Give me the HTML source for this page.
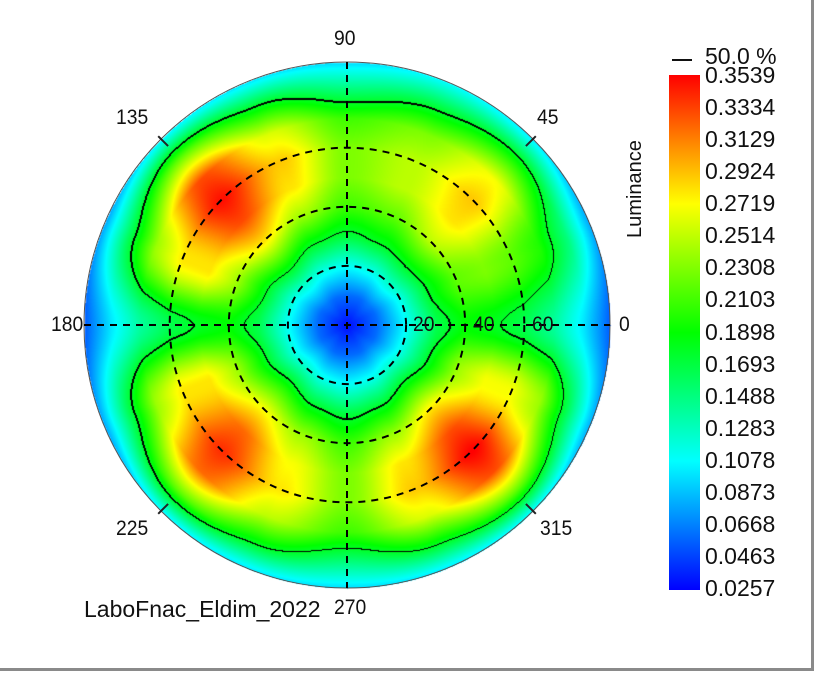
<!DOCTYPE html>
<html><head><meta charset="utf-8">
<style>
html,body{margin:0;padding:0;background:#fff;}
#wrap{position:relative;width:817px;height:674px;overflow:hidden;background:#fff;font-family:"Liberation Sans",sans-serif;}
.frame{position:absolute;left:0;top:0;width:811px;height:668px;border-right:3px solid #8a8a8a;border-bottom:3px solid #8a8a8a;}
.lbl{position:absolute;font-size:21px;color:#111;white-space:nowrap;transform:scaleX(0.92);transform-origin:left center;}
.cb{position:absolute;left:705px;font-size:23px;color:#111;}
</style></head>
<body>
<div id="wrap">
<div class="frame"></div>
<canvas id="cv" width="817" height="674" style="position:absolute;left:0;top:0"></canvas>
<svg id="ov" width="817" height="674" style="position:absolute;left:0;top:0"></svg>
<div class="lbl" style="left:334px;top:27px">90</div>
<div class="lbl" style="left:537px;top:106px">45</div>
<div class="lbl" style="left:116px;top:106px">135</div>
<div class="lbl" style="left:51px;top:313px">180</div>
<div class="lbl" style="left:619px;top:313px">0</div>
<div class="lbl" style="left:116px;top:517px">225</div>
<div class="lbl" style="left:540px;top:517px">315</div>
<div class="lbl" style="left:413px;top:313px">20</div>
<div class="lbl" style="left:473px;top:313px">40</div>
<div class="lbl" style="left:532px;top:313px">60</div>
<div class="lbl" style="left:334px;top:596px">270</div>
<div class="lbl" style="left:84px;top:596px;font-size:23px;transform:none">LaboFnac_Eldim_2022</div>
<div class="lbl" style="left:624px;top:238px;transform:rotate(-90deg);transform-origin:left top;font-size:20px">Luminance</div>
<div style="position:absolute;left:672px;top:59px;width:20px;height:2px;background:#111"></div>
<div class="cb" style="top:43px">50.0 %</div>
<div id="cbar" style="position:absolute;left:669px;top:75px;width:31px;height:515px"></div>
<div id="cblabels"></div>
</div>
<script>
// Data: luminance sampled along azimuths (deg) at polar radii (deg)
const azimuths = [0,22.5,45,67.5,90,112.5,135,157.5,180,202.5,225,247.5,270,292.5,315,337.5];
const radii = [0,10,20,30,40,50,60,70,80,90];
const lum = [
 [.03,.06,.11,.165,.19,.18,.165,.14,.10,.05],
 [.03,.06,.115,.18,.22,.23,.22,.2,.15,.07],
 [.03,.065,.125,.19,.25,.28,.29,.27,.19,.09],
 [.03,.06,.115,.18,.22,.25,.25,.23,.17,.10],
 [.03,.06,.11,.17,.21,.23,.23,.21,.15,.09],
 [.03,.06,.115,.18,.24,.28,.29,.26,.18,.09],
 [.03,.065,.125,.20,.28,.33,.35,.33,.22,.09],
 [.03,.06,.115,.18,.24,.28,.28,.24,.16,.07],
 [.03,.06,.11,.165,.19,.18,.165,.14,.10,.05],
 [.03,.06,.115,.18,.24,.28,.28,.24,.16,.07],
 [.03,.065,.125,.20,.27,.32,.34,.32,.22,.09],
 [.03,.06,.115,.18,.24,.27,.28,.25,.18,.09],
 [.03,.06,.11,.17,.21,.23,.23,.21,.15,.09],
 [.03,.06,.115,.18,.24,.28,.29,.26,.18,.09],
 [.03,.065,.125,.20,.28,.33,.355,.33,.22,.09],
 [.03,.06,.115,.18,.24,.27,.27,.24,.16,.07]
];
const colorTicks = ["0.3539","0.3334","0.3129","0.2924","0.2719","0.2514","0.2308","0.2103","0.1898","0.1693","0.1488","0.1283","0.1078","0.0873","0.0668","0.0463","0.0257"];
const vmin = 0.0257, vmax = 0.3539, contourLevel = 0.5*vmax;
const radiusRings = [20,40,60];
const angleTicks = [45,135,225,315];

const CX=347, CY=325, R=263, MAXDEG=89;
const rScale = d => d/MAXDEG*R;
function jet(t){t=Math.max(0,Math.min(1,t));
  const stops=[[0,0,255],[0,255,255],[0,255,0],[255,255,0],[255,0,0]];
  const p=t*4,i=Math.min(3,Math.floor(p)),f=p-i,a=stops[i],b=stops[i+1];
  return [a[0]+(b[0]-a[0])*f,a[1]+(b[1]-a[1])*f,a[2]+(b[2]-a[2])*f];}
function sample(az,rd){
  const n=azimuths.length, step=360/n;
  let a=((az%360)+360)%360, ia=Math.floor(a/step), fa=a/step-ia, ib=(ia+1)%n;
  fa=fa*fa*(3-2*fa);
  let rr=Math.min(rd,radii[radii.length-1]-1e-6), rs=radii[1]-radii[0];
  let ir=Math.floor(rr/rs), fr=rr/rs-ir;
  const v=(row)=>lum[row][ir]*(1-fr)+lum[row][ir+1]*fr;
  return v(ia)*(1-fa)+v(ib)*fa;}
const cv=document.getElementById('cv'),ctx=cv.getContext('2d');
const img=ctx.createImageData(817,674),D=img.data;
const W=2*R+3, vals=new Float32Array(W*W);
for(let y=0;y<W;y++)for(let x=0;x<W;x++){
  const dx=x-R-1,dy=-(y-R-1),r=Math.hypot(dx,dy);
  vals[y*W+x]= r<=R ? sample(Math.atan2(dy,dx)*180/Math.PI,r/R*MAXDEG) : NaN;}
function cross(x,y,s){const v=vals[y*W+x];return !isNaN(v)&&(v>contourLevel)!==s;}
for(let y=1;y<W-1;y++)for(let x=1;x<W-1;x++){
  const v=vals[y*W+x]; if(isNaN(v))continue;
  const px=CX-R-1+x,py=CY-R-1+y; if(px<0||py<0||px>=817||py>=674)continue;
  let c=jet((v-vmin)/(vmax-vmin));
  const s=v>contourLevel;
  if(s&&(cross(x+1,y,s)||cross(x,y+1,s)||cross(x-1,y,s)||cross(x,y-1,s)))c=[0,0,0];
  else if(!s&&(cross(x+1,y,s)||cross(x,y+1,s)))c=[0,0,0];
  const k=(py*817+px)*4;D[k]=c[0];D[k+1]=c[1];D[k+2]=c[2];D[k+3]=255;}
ctx.putImageData(img,0,0);

const NS='http://www.w3.org/2000/svg',ov=document.getElementById('ov');
function mk(t,at){const e=document.createElementNS(NS,t);for(const k in at)e.setAttribute(k,at[k]);ov.appendChild(e);return e;}
let e;
e=mk('circle',{cx:CX,cy:CY,r:R,fill:'none',stroke:'#555','stroke-width':1});


radiusRings.forEach(d=>{
  e=mk('circle',{cx:CX,cy:CY,r:rScale(d),fill:'none',stroke:'#000','stroke-width':2,'stroke-dasharray':'7 6'});
  
  
});
e=mk('line',{x1:CX-R,y1:CY,x2:CX+R,y2:CY,stroke:'#000','stroke-width':2,'stroke-dasharray':'7 6'});


e=mk('line',{x1:CX,y1:CY-R,x2:CX,y2:CY+R,stroke:'#000','stroke-width':2,'stroke-dasharray':'7 6'});


angleTicks.forEach(a=>{const t=a*Math.PI/180,c=Math.cos(t),s=-Math.sin(t);
  e=mk('line',{x1:CX+c*(R-10),y1:CY+s*(R-10),x2:CX+c*(R+4),y2:CY+s*(R+4),stroke:'#222','stroke-width':2});
  
  
});
// colorbar
const cb=document.getElementById('cbar');
cb.style.background='linear-gradient(to top,rgb(0,0,255),rgb(0,255,255),rgb(0,255,0),rgb(255,255,0),rgb(255,0,0))';
const cl=document.getElementById('cblabels');
colorTicks.forEach((t,i)=>{const d=document.createElement('div');d.className='cb';
  d.style.top=(62+i*(513/(colorTicks.length-1)))+'px';d.textContent=t;
  
  
  cl.appendChild(d);});
</script>
</body></html>
